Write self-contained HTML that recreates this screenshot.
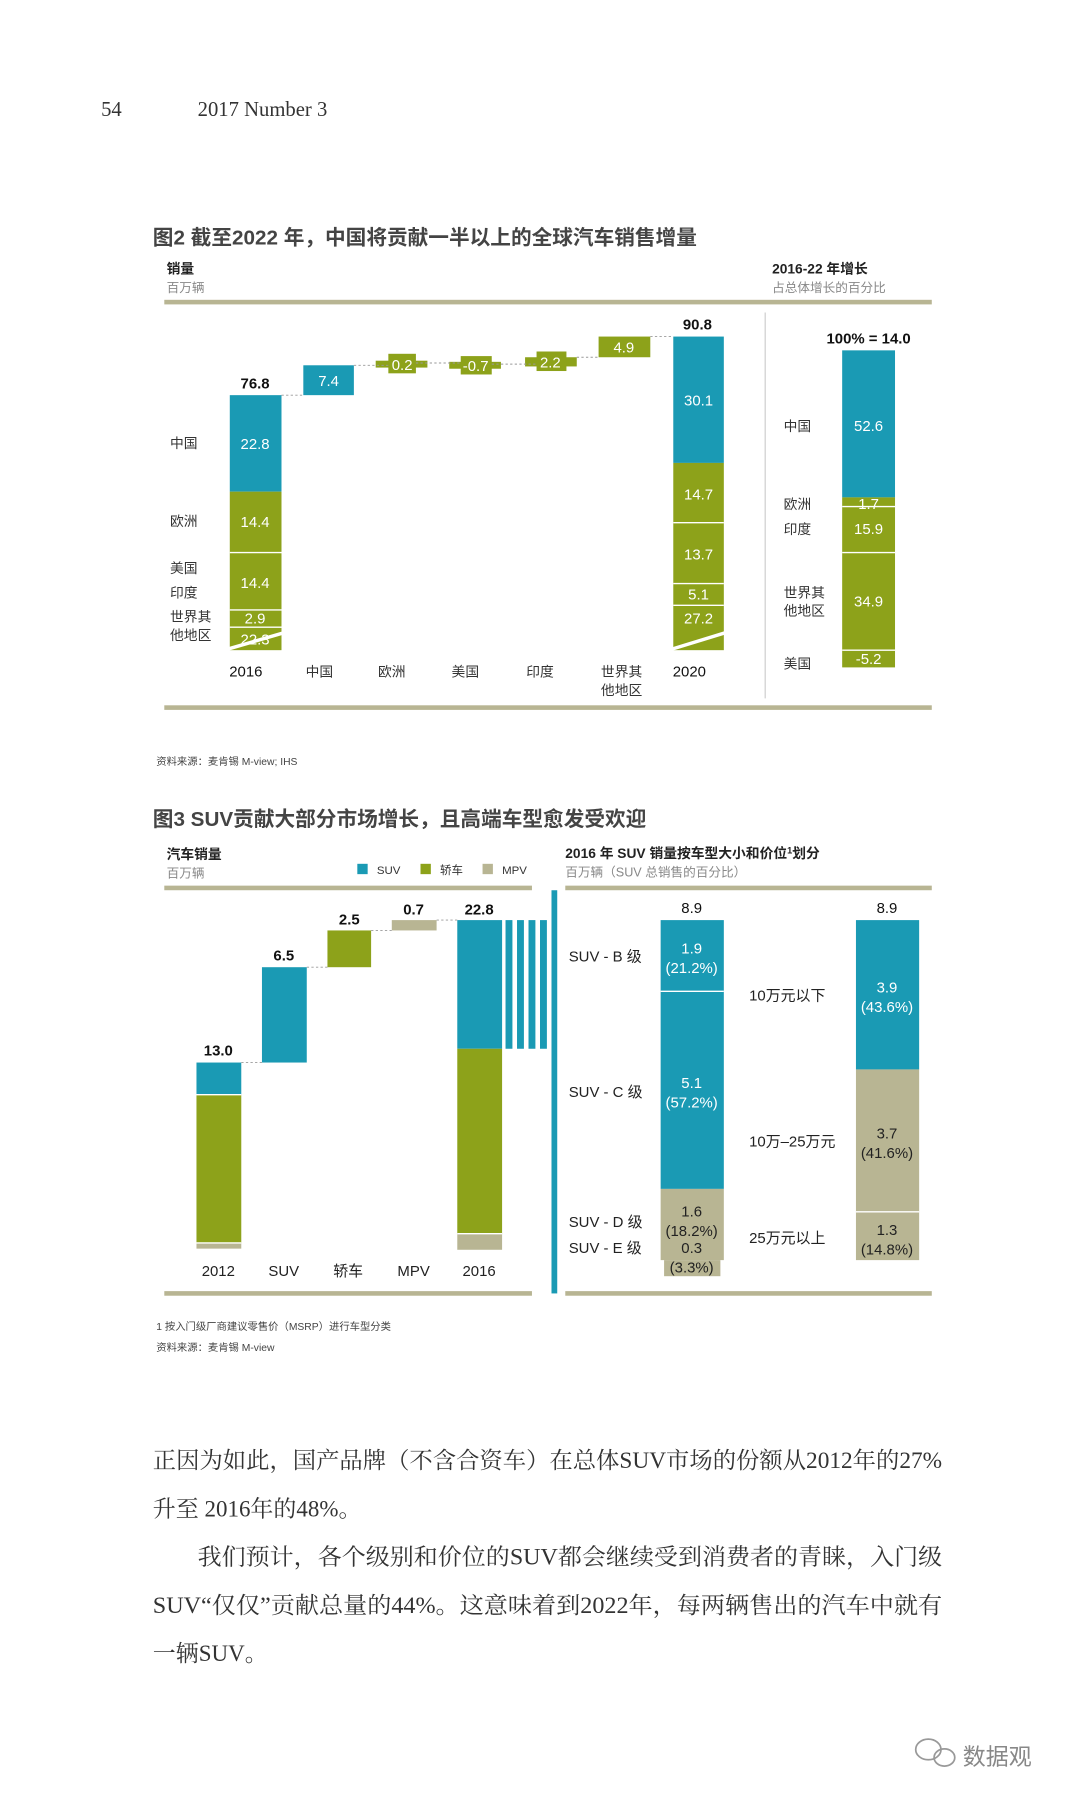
<!DOCTYPE html>
<html><head><meta charset="utf-8"><style>
html,body{margin:0;padding:0;background:#fff}
svg{display:block}
.s{font-family:"Liberation Sans","Noto Sans CJK SC",sans-serif}
.r{font-family:"Liberation Serif","Noto Serif CJK SC",serif}
</style></head><body>
<svg width="1080" height="1800" viewBox="0 0 940 1567" preserveAspectRatio="none" xmlns="http://www.w3.org/2000/svg">
<rect width="940" height="1567" fill="#fff"/>
<g class="r" fill="#333" font-size="18">
<text x="88" y="101">54</text><text x="172" y="101">2017 Number 3</text>
</g>
<!-- FIG 2 -->
<g class="s">
<text x="133" y="213" font-size="18" font-weight="bold" fill="#444">图2 截至2022 年，中国将贡献一半以上的全球汽车销售增量</text>
<text x="145" y="238" font-size="12" font-weight="bold" fill="#222">销量</text>
<text x="145" y="254" font-size="11" fill="#888">百万辆</text>
<text x="672" y="238" font-size="12" font-weight="bold" fill="#222">2016-22 年增长</text>
<text x="672" y="254" font-size="11" fill="#888">占总体增长的百分比</text>
</g>
<rect x="143" y="261" width="668" height="4" fill="#b8b593"/>
<rect x="143" y="614" width="668" height="4" fill="#b8b593"/>
<line x1="666" y1="272" x2="666" y2="608" stroke="#ccc" stroke-width="1"/>
<g fill="#1a9ab4">
<rect x="200" y="344" width="45" height="84"/>
<rect x="264" y="318" width="44" height="26"/>
<rect x="586" y="293" width="44" height="110"/>
<rect x="733" y="305" width="46" height="128"/>
</g>
<g fill="#8da21a">
<rect x="200" y="428" width="45" height="138"/>
<rect x="586" y="403" width="44" height="163"/>
<rect x="733" y="433" width="46" height="148"/>
<rect x="521" y="293" width="45" height="18"/>
<rect x="327" y="314" width="45" height="6"/><rect x="338" y="308" width="24" height="17"/>
<rect x="391" y="315" width="45" height="6"/><rect x="401" y="310" width="27" height="16"/>
<rect x="457" y="311" width="45" height="8"/><rect x="467" y="306" width="26" height="17"/>
</g>
<g stroke="#fff" stroke-width="1.2">
<line x1="200" y1="481" x2="245" y2="481"/><line x1="200" y1="531" x2="245" y2="531"/><line x1="200" y1="546" x2="245" y2="546"/>
<line x1="586" y1="455" x2="630" y2="455"/><line x1="586" y1="508" x2="630" y2="508"/><line x1="586" y1="527" x2="630" y2="527"/>
<line x1="733" y1="441" x2="779" y2="441"/><line x1="733" y1="481" x2="779" y2="481"/><line x1="733" y1="566" x2="779" y2="566"/>
<line x1="195" y1="566" x2="250" y2="550" stroke-width="3"/>
<line x1="582" y1="566" x2="634" y2="550" stroke-width="3"/>
</g>
<g stroke="#999" stroke-width="0.8" stroke-dasharray="2,2">
<line x1="245" y1="344" x2="264" y2="344"/><line x1="308" y1="318" x2="338" y2="318"/>
<line x1="362" y1="316" x2="401" y2="316"/><line x1="428" y1="317" x2="467" y2="317"/>
<line x1="502" y1="311" x2="521" y2="311"/><line x1="566" y1="293" x2="586" y2="293"/>
</g>
<g class="s" font-size="13" fill="#fff" text-anchor="middle">
<text x="222" y="391">22.8</text><text x="222" y="459">14.4</text><text x="222" y="512">14.4</text>
<text x="222" y="543">2.9</text><text x="222" y="561">22.3</text>
<text x="286" y="336">7.4</text><text x="350" y="322">0.2</text><text x="414" y="323">-0.7</text>
<text x="479" y="320">2.2</text><text x="543" y="307">4.9</text>
<text x="608" y="353">30.1</text><text x="608" y="435">14.7</text><text x="608" y="487">13.7</text>
<text x="608" y="522">5.1</text><text x="608" y="543">27.2</text>
<text x="756" y="375">52.6</text><text x="756" y="443">1.7</text><text x="756" y="465">15.9</text>
<text x="756" y="528">34.9</text><text x="756" y="578">-5.2</text>
</g>
<g class="s" font-size="13" font-weight="bold" fill="#111" text-anchor="middle">
<text x="222" y="338">76.8</text><text x="607" y="287">90.8</text><text x="756" y="299">100% = 14.0</text>
<text x="214" y="589" font-weight="normal">2016</text><text x="600" y="589" font-weight="normal">2020</text>
</g>
<g class="s" font-size="12" fill="#333">
<text x="148" y="390">中国</text><text x="148" y="458">欧洲</text><text x="148" y="499">美国</text>
<text x="148" y="520">印度</text><text x="148" y="541">世界其</text><text x="148" y="557">他地区</text>
<text x="682" y="375">中国</text><text x="682" y="443">欧洲</text><text x="682" y="465">印度</text>
<text x="682" y="520">世界其</text><text x="682" y="536">他地区</text><text x="682" y="582">美国</text>
</g>
<g class="s" font-size="12" fill="#333" text-anchor="middle">
<text x="278" y="589">中国</text><text x="341" y="589">欧洲</text><text x="405" y="589">美国</text>
<text x="470" y="589">印度</text><text x="541" y="589">世界其</text><text x="541" y="605">他地区</text>
</g>
<text class="s" x="136" y="666" font-size="9" fill="#444">资料来源：麦肯锡 M-view; IHS</text>

<!-- FIG 3 -->
<g class="s">
<text x="133" y="719" font-size="18" font-weight="bold" fill="#444">图3 SUV贡献大部分市场增长，且高端车型愈发受欢迎</text>
<text x="145" y="748" font-size="12" font-weight="bold" fill="#222">汽车销量</text>
<text x="145" y="764" font-size="11" fill="#888">百万辆</text>
<rect x="311" y="752" width="9" height="9" fill="#1a9ab4"/><text x="328" y="761" font-size="10" fill="#333">SUV</text>
<rect x="366" y="752" width="9" height="9" fill="#8da21a"/><text x="383" y="761" font-size="10" fill="#333">轿车</text>
<rect x="420" y="752" width="9" height="9" fill="#b8b593"/><text x="437" y="761" font-size="10" fill="#333">MPV</text>
<text x="492" y="747" font-size="12" font-weight="bold" fill="#222">2016 年 SUV 销量按车型大小和价位<tspan font-size="8" dy="-4">1</tspan><tspan dy="4">划分</tspan></text>
<text x="492" y="763" font-size="11" fill="#888">百万辆（SUV 总销售的百分比）</text>
</g>
<rect x="143" y="771" width="320" height="4" fill="#b8b593"/>
<rect x="492" y="771" width="319" height="4" fill="#b8b593"/>
<rect x="143" y="1124" width="320" height="4" fill="#b8b593"/>
<rect x="492" y="1124" width="319" height="4" fill="#b8b593"/>
<rect x="480" y="775" width="5" height="351" fill="#1a9ab4"/>
<g fill="#1a9ab4">
<rect x="171" y="925" width="39" height="28"/>
<rect x="228" y="842" width="39" height="83"/>
<rect x="398" y="801" width="39" height="112"/>
<rect x="440" y="801" width="6" height="112"/><rect x="450" y="801" width="6" height="112"/>
<rect x="460" y="801" width="6" height="112"/><rect x="470" y="801" width="6" height="112"/>
<rect x="575" y="801" width="55" height="234"/>
<rect x="745" y="801" width="55" height="130"/>
</g>
<g fill="#8da21a">
<rect x="171" y="953" width="39" height="129"/>
<rect x="285" y="810" width="38" height="32"/>
<rect x="398" y="913" width="39" height="161"/>
</g>
<g fill="#b8b593">
<rect x="171" y="1082" width="39" height="5"/>
<rect x="341" y="801" width="39" height="9"/>
<rect x="398" y="1074" width="39" height="14"/>
<rect x="575" y="1035" width="55" height="62"/>
<rect x="578" y="1097" width="49" height="14"/>
<rect x="745" y="931" width="55" height="166"/>
</g>
<g stroke="#fff" stroke-width="1.2">
<line x1="575" y1="863" x2="630" y2="863"/><line x1="745" y1="1055" x2="800" y2="1055"/>
<line x1="171" y1="953" x2="210" y2="953"/><line x1="171" y1="1082" x2="210" y2="1082"/>
<line x1="398" y1="1074" x2="437" y2="1074"/>
</g>
<g stroke="#999" stroke-width="0.8" stroke-dasharray="2,2">
<line x1="210" y1="925" x2="228" y2="925"/><line x1="267" y1="842" x2="285" y2="842"/>
<line x1="323" y1="810" x2="341" y2="810"/><line x1="380" y1="801" x2="398" y2="801"/>
</g>
<g class="s" font-size="13" font-weight="bold" fill="#111" text-anchor="middle">
<text x="190" y="919">13.0</text><text x="247" y="836">6.5</text><text x="304" y="805">2.5</text>
<text x="360" y="796">0.7</text><text x="417" y="796">22.8</text>
<text x="602" y="795" font-weight="normal">8.9</text><text x="772" y="795" font-weight="normal">8.9</text>
</g>
<g class="s" font-size="13" fill="#222" text-anchor="middle">
<text x="190" y="1111">2012</text><text x="247" y="1111">SUV</text><text x="303" y="1111">轿车</text>
<text x="360" y="1111">MPV</text><text x="417" y="1111">2016</text>
</g>
<g class="s" font-size="13" fill="#fff" text-anchor="middle">
<text x="602" y="830">1.9</text><text x="602" y="847">(21.2%)</text>
<text x="602" y="947">5.1</text><text x="602" y="964">(57.2%)</text>
<text x="772" y="864">3.9</text><text x="772" y="881">(43.6%)</text>
</g>
<g class="s" font-size="13" fill="#222" text-anchor="middle">
<text x="602" y="1059">1.6</text><text x="602" y="1076">(18.2%)</text>
<text x="602" y="1091">0.3</text><text x="602" y="1108">(3.3%)</text>
<text x="772" y="991">3.7</text><text x="772" y="1008">(41.6%)</text>
<text x="772" y="1075">1.3</text><text x="772" y="1092">(14.8%)</text>
</g>
<g class="s" font-size="13" fill="#222">
<text x="495" y="837">SUV - B 级</text><text x="495" y="955">SUV - C 级</text>
<text x="495" y="1068">SUV - D 级</text><text x="495" y="1091">SUV - E 级</text>
<text x="652" y="871">10万元以下</text><text x="652" y="998">10万–25万元</text><text x="652" y="1082">25万元以上</text>
</g>
<g class="s" font-size="9" fill="#444">
<text x="136" y="1158">1 按入门级厂商建议零售价（MSRP）进行车型分类</text>
<text x="136" y="1176">资料来源：麦肯锡 M-view</text>
</g>
<!-- body -->
<g class="r" font-size="20" fill="#333">
<text x="133" y="1278" textLength="687" lengthAdjust="spacingAndGlyphs">正因为如此，国产品牌（不含合资车）在总体SUV市场的份额从2012年的27%</text>
<text x="133" y="1320">升至 2016年的48%。</text>
<text x="172" y="1362" textLength="648" lengthAdjust="spacingAndGlyphs">我们预计，各个级别和价位的SUV都会继续受到消费者的青睐，入门级</text>
<text x="133" y="1404" textLength="687" lengthAdjust="spacingAndGlyphs">SUV“仅仅”贡献总量的44%。这意味着到2022年，每两辆售出的汽车中就有</text>
<text x="133" y="1446">一辆SUV。</text>
</g>
<g fill="none" stroke="#999" stroke-width="1.5">
<ellipse cx="808" cy="1523" rx="11" ry="9"/><ellipse cx="822" cy="1530" rx="9" ry="7.5"/>
</g>
<text class="s" x="838" y="1536" font-size="20" fill="#888">数据观</text>
</svg>
</body></html>
